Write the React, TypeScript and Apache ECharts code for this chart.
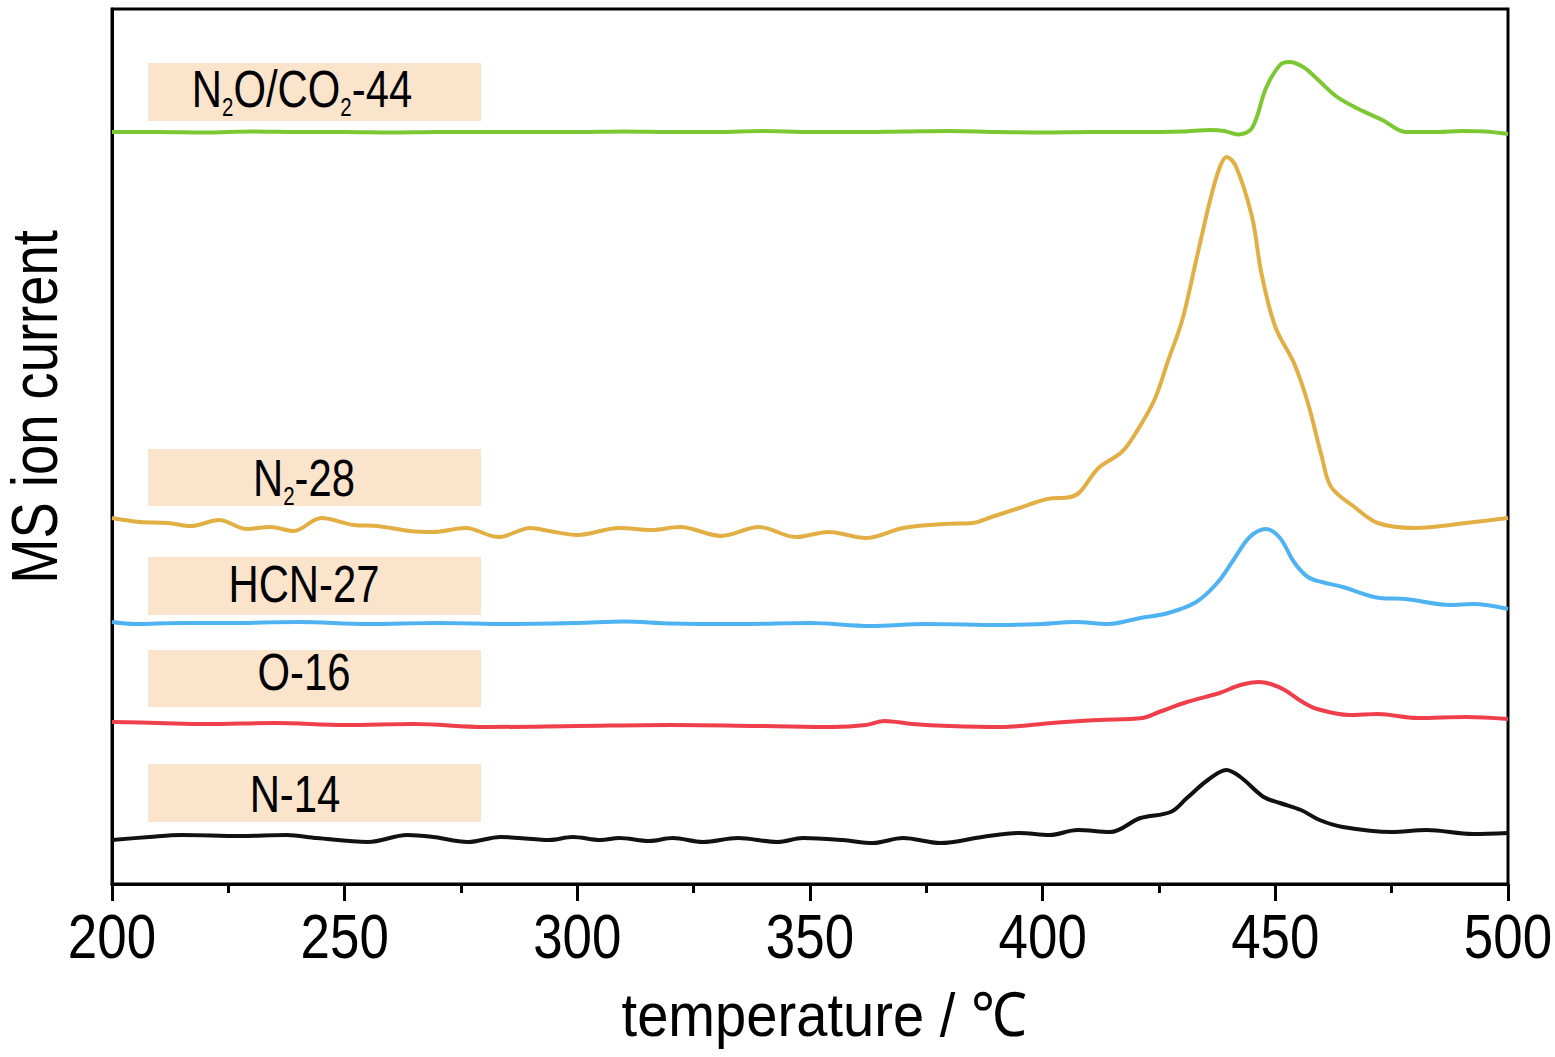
import React, { useEffect, useRef } from "react";
import * as echarts from "echarts";

// Temperature (°C) and MS ion current (arbitrary units, stacked offsets included)
const n14Temps = [200, 208, 215, 227.5, 237.5, 244, 255, 263.5, 269, 276.5, 283.5, 290.5, 294, 299, 305, 309, 315.5, 320.5, 327, 334.5, 343, 348.5, 357, 363.5, 370, 378, 387, 395, 401.5, 407.5, 414.5, 421, 427.5, 431, 435.5, 439.5, 442.5, 447.5, 451, 455.5, 459.5, 464.5, 475, 482.5, 492.5, 500];
const n14Values = [44, 47, 49, 48, 49, 46, 42, 49, 47, 42, 47, 45, 44, 47, 44, 46, 43, 46, 42, 46, 42, 46, 44, 41, 46, 41, 47, 51, 49, 54, 52, 66, 72, 86, 104, 114, 107, 87, 81, 74, 64, 57, 52, 54, 50, 51];

const o16Temps = [200, 210, 220, 235, 250, 265, 280, 300, 320, 340, 355, 362, 366, 372, 380, 391, 402, 412, 421.5, 425, 431, 438, 442.5, 446.5, 449, 452, 455.5, 459, 466, 472, 480.5, 491, 500];
const o16Values = [162, 161, 160, 161, 159, 160, 157, 158, 159, 158, 157, 159, 163, 160, 158, 157, 161, 164, 166, 172, 182, 191, 199, 202, 200, 194, 183, 175, 169, 170, 166, 167, 165];

const hcnTemps = [200, 205, 215, 225, 240, 255, 270, 285, 300, 310, 320, 335, 350, 363, 375, 391, 400, 407, 414, 421, 427, 433, 437.5, 441, 444.5, 448, 451, 454, 457, 460, 464.5, 472.5, 478, 487.5, 492.5, 500];
const hcnValues = [262, 260, 261, 261, 262, 260, 261, 260, 261, 262.5, 260.5, 260, 261, 258, 260, 259, 260, 262, 260, 266, 271, 282, 301, 324, 347, 355, 346, 322, 307, 302, 297, 286, 285, 279, 280, 275];

const n2Temps = [200, 206, 212, 217, 223, 229, 234, 239, 245, 252, 257, 264, 269, 276, 283, 290, 294, 300, 309, 316, 322, 331, 339, 347, 354, 362, 370, 379, 385, 389, 395, 401, 406, 408, 412, 417, 420, 424, 427, 430, 433, 436, 438, 439.5, 441.5, 445, 447, 450, 454, 457, 460, 462, 467, 472, 480, 491, 500];
const n2Values = [366, 362, 361, 358, 364, 355, 357, 353, 366, 359, 358, 353, 352, 356, 347, 356, 353, 349, 356, 354, 357, 348, 357, 347, 352, 346, 356, 360, 361, 367, 376, 385, 387, 392, 416, 432, 451, 484, 524, 564, 624, 684, 716, 727, 718, 667, 611, 557, 521, 481, 427, 397, 377, 361, 356, 361, 366];

const n2oTemps = [200, 210, 220, 230, 240, 250, 260, 270, 280, 290, 300, 310, 320, 330, 340, 350, 360, 370, 380, 390, 400, 410, 420, 430, 436, 439, 442, 445, 448, 451, 453, 456, 459, 463, 467, 473, 478, 485, 490, 495, 500];
const n2oValues = [752, 752, 751.5, 752.5, 752, 752, 751.5, 752, 752, 752, 752, 752.5, 752, 752, 753, 752, 752, 752.5, 753, 752, 751.5, 752, 752, 752.5, 754, 753, 749.5, 756, 796, 819, 822, 817, 805, 788, 777, 764, 752, 752, 753, 752.5, 750];

const seriesNames = ["N-14", "O-16", "HCN-27", "N2-28", "N2O/CO2-44"];
const seriesColors = ["#111111", "#ef3f4a", "#4fb3f2", "#e2af45", "#7dc832"];
const seriesTemps = [n14Temps, o16Temps, hcnTemps, n2Temps, n2oTemps];
const seriesValues = [n14Values, o16Values, hcnValues, n2Values, n2oValues];

// label pieces: [text, isSubscript]
const labelParts: [string, boolean][][] = [
  [["N-14", false]],
  [["O-16", false]],
  [["HCN-27", false]],
  [["N", false], ["2", true], ["-28", false]],
  [["N", false], ["2", true], ["O/CO", false], ["2", true], ["-44", false]],
];

const xTickValues = [200, 250, 300, 350, 400, 450, 500];
const xTicks = { min: 200, max: 500, interval: 50 };
const xTitle = "temperature / ℃";
const yTitle = "MS ion current";

const FONT = "'Liberation Sans', Arial, sans-serif";
const NARROW = 0.82;
const MAIN_SIZE = 51;
const SUB_SIZE = 25;

function measure(text: string, size: number): number {
  const c = document.createElement("canvas");
  const ctx = c.getContext("2d");
  if (!ctx) return text.length * size * 0.55;
  ctx.font = `${size}px ${FONT}`;
  return ctx.measureText(text).width;
}

export default function App() {
  const ref = useRef<HTMLDivElement>(null);
  useEffect(() => {
    if (!ref.current) return;
    const chart = echarts.init(ref.current, undefined, { renderer: "svg" });

    chart.setOption({
      animation: false,
      backgroundColor: "#ffffff",
      grid: {
        left: 112,
        right: 47,
        top: 9,
        bottom: 173,
        show: true,
        borderColor: "#000",
        borderWidth: 3,
        containLabel: false,
        outerBoundsMode: "none",
      },
      xAxis: {
        type: "value",
        min: xTicks.min,
        max: xTicks.max,
        interval: xTicks.interval,
        axisLine: { show: true, lineStyle: { color: "#000", width: 3 } },
        axisTick: { show: true, inside: false, length: 17, lineStyle: { color: "#000", width: 3 } },
        minorTick: { show: true, splitNumber: 2, length: 9, lineStyle: { color: "#000", width: 3 } },
        axisLabel: { show: false },
        splitLine: { show: false },
      },
      yAxis: {
        type: "value",
        min: 0,
        max: 875,
        axisLine: { show: true, lineStyle: { color: "#000", width: 3 } },
        axisTick: { show: false },
        axisLabel: { show: false },
        splitLine: { show: false },
      },
      series: seriesNames.map((name, i) => ({
        name,
        type: "line",
        data: seriesTemps[i].map((t, j) => [t, seriesValues[i][j]]),
        smooth: 0.35,
        showSymbol: false,
        lineStyle: { color: seriesColors[i], width: 4 },
        z: 3,
      })),
    });

    // label boxes: [top, height, textCenterX, textCenterY]
    const boxes = [
      [764, 58, 295, 795],
      [650, 57, 304, 673],
      [557, 58, 304, 585],
      [449, 57, 304, 479],
      [63, 58, 302, 90],
    ];

    const graphics: any[] = [];
    boxes.forEach((b, i) => {
      graphics.push({
        type: "rect",
        shape: { x: 148, y: b[0], width: 333, height: b[1] },
        style: { fill: "#fbe4cc" },
        z: 1,
      });
      const parts = labelParts[i];
      const widths = parts.map(([t, sub]) => measure(t, sub ? SUB_SIZE : MAIN_SIZE));
      const total = widths.reduce((a, w) => a + w, 0);
      let cursor = -total / 2;
      const children = parts.map(([t, sub], k) => {
        const el = {
          type: "text",
          x: cursor,
          y: sub ? 17.5 : 0,
          z: 5,
          style: {
            text: t,
            fontSize: sub ? SUB_SIZE : MAIN_SIZE,
            fontFamily: FONT,
            fill: "#000",
            align: "left",
            verticalAlign: "middle",
          },
        };
        cursor += widths[k];
        return el;
      });
      graphics.push({
        type: "group",
        x: b[2],
        y: b[3],
        scaleX: NARROW,
        z: 5,
        children,
      });
    });

    // x tick labels placed through the axis scale
    const y0 = chart.convertToPixel({ xAxisIndex: 0, yAxisIndex: 0 }, [xTicks.min, 0]) as number[];
    xTickValues.forEach((v) => {
      const p = chart.convertToPixel({ xAxisIndex: 0, yAxisIndex: 0 }, [v, 0]) as number[];
      graphics.push({
        type: "text",
        x: p[0],
        y: y0[1] + 52,
        scaleX: 0.84,
        style: {
          text: String(v),
          fontSize: 63,
          fontFamily: FONT,
          fill: "#000",
          align: "center",
          verticalAlign: "middle",
        },
      });
    });

    graphics.push({
      type: "text",
      x: 824,
      y: 1015,
      scaleX: 0.92,
      style: {
        text: xTitle,
        fontSize: 61,
        fontFamily: FONT,
        fill: "#000",
        align: "center",
        verticalAlign: "middle",
      },
    });

    graphics.push({
      type: "text",
      x: 35,
      y: 407,
      rotation: Math.PI / 2,
      scaleX: 0.85,
      style: {
        text: yTitle,
        fontSize: 64,
        fontFamily: FONT,
        fill: "#000",
        align: "center",
        verticalAlign: "middle",
      },
    });

    chart.setOption({ graphic: graphics });

    return () => chart.dispose();
  }, []);
  return (
    <div
      ref={ref}
      style={{ position: "fixed", left: 0, top: 0, width: 1555, height: 1057, background: "#fff" }}
    />
  );
}
